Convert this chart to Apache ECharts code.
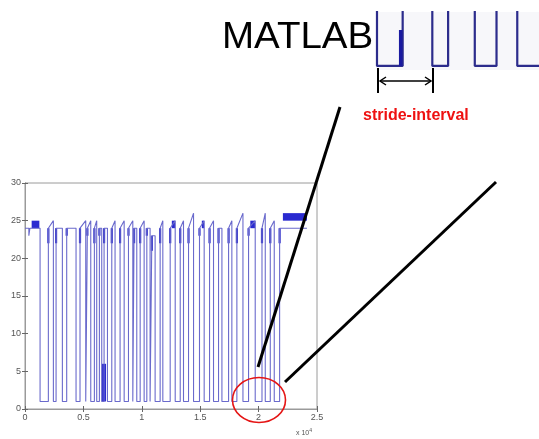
<!DOCTYPE html>
<html><head><meta charset="utf-8">
<script src="https://cdn.jsdelivr.net/npm/echarts/dist/echarts.min.js"></script>
<style>html,body{margin:0;padding:0;background:#fff}#c{width:539px;height:439px}</style>
</head><body><div id="c"></div>
<script>
// ---- data (sample index on x, value on y) ----
const xTickLabels = ['0', '0.5', '1', '1.5', '2', '2.5'];
const yTickLabels = ['0', '5', '10', '15', '20', '25', '30'];
const lowLevel = 1;
const plateau = 24;
const startTrace = [[0, 24], [330, 24], [330, 23], [420, 23], [420, 24]];
const pulseRise = [420, 2000, 2660, 3570, 4710, 5340, 5940, 6370, 6770, 7430, 8140, 8860, 9340, 9860, 10430, 10860, 11570, 12430, 13290, 14000, 14940, 15800, 16570, 17430, 18140, 19140, 20290, 21000, 21800];
const pulseFall = [1290, 2430, 3200, 4370, 5200, 5630, 6140, 6570, 7060, 7710, 8490, 9230, 9570, 10200, 10710, 11140, 11800, 12860, 13570, 14430, 15340, 16140, 16860, 17710, 18660, 19710, 20570, 21340, 24140];
const pulsePeak = [24, 25, 24, 24, 25, 25, 25, 24, 24, 25, 25, 25, 24, 25, 24, 23, 25, 25, 25, 26, 25, 25, 24, 25, 26, 25, 26, 25, 24];
// level where dense marks begin on each rising edge
const riseMarkFrom = [24, 22, 22, 23, 22, 23, 22, 23, 22, 22, 22, 23, 22, 22, 23, 21, 22, 22, 22, 22, 23, 22, 22, 22, 22, 23, 22, 22, 22];
// dense (blob) regions: [xStart, xEnd, yLow, yHigh]
const blobX0 = [570, 12570, 15140, 19290, 22080, 6570];
const blobX1 = [1230, 12860, 15340, 19710, 24140, 6940];
const blobY0 = [24, 24, 24, 24, 25, 1];
const blobY1 = [25, 25, 25, 25, 26, 6];
// zoomed inset: low intervals (inset sample units)
const insetLowStart = [1, 57, 100, 143];
const insetLowEnd = [27, 73, 122, 175];
const insetLow = 0.7, insetHigh = 20;

// ---- build series ----
const mainPts = startTrace.slice();
for (let i = 0; i < pulseRise.length; i++) {
  const r = pulseRise[i], f = pulseFall[i], p = pulsePeak[i];
  if (i > 0) { mainPts.push([r, lowLevel]); mainPts.push([r, Math.min(p, plateau)]); }
  mainPts.push([f, p]);
  if (i < pulseRise.length - 1) mainPts.push([f, lowLevel]);
}
const blobs = blobX0.map((x, i) => [x, blobX1[i], blobY0[i], blobY1[i]]);
const riseMarks = pulseRise.slice(1).map((r, k) => [r, riseMarkFrom[k + 1], Math.min(pulsePeak[k + 1], plateau)]);
const insetPts = [];
insetLowStart.forEach((a, i) => {
  const b = insetLowEnd[i];
  insetPts.push([a, insetHigh], [a, insetLow], [b, insetLow], [b, insetHigh]);
});

const chart = echarts.init(document.getElementById('c'), null, {renderer: 'canvas'});
const axisGray = '#9a9a9a';
const FF = 'Liberation Sans, Arial, sans-serif';
const labelStyle = {color: '#555', fontSize: 9, fontFamily: FF};
chart.setOption({
  animation: false,
  backgroundColor: '#fff',
  grid: [
    {left: 25, top: 183, width: 292, height: 226, show: true, borderColor: axisGray, borderWidth: 1, backgroundColor: '#fff'},
    {left: 376, top: 12, width: 165, height: 58, show: true, borderWidth: 0, backgroundColor: '#f7f7fa'}
  ],
  xAxis: [
    {gridIndex: 0, type: 'value', min: 0, max: 25000, interval: 5000, position: 'bottom',
     axisLine: {show: true, lineStyle: {color: axisGray}}, splitLine: {show: false},
     axisTick: {show: true, inside: true, length: 3, lineStyle: {color: '#666'}},
     axisLabel: Object.assign({margin: 4, formatter: (v) => xTickLabels[Math.round(v / 5000)]}, labelStyle)},
    {gridIndex: 0, type: 'value', min: 0, max: 25000, interval: 5000, position: 'top',
     axisLine: {show: true, lineStyle: {color: axisGray}}, splitLine: {show: false},
     axisTick: {show: true, inside: true, length: 3, lineStyle: {color: '#666'}}, axisLabel: {show: false}},
    {gridIndex: 1, type: 'value', min: 0, max: 165, show: false}
  ],
  yAxis: [
    {gridIndex: 0, type: 'value', min: 0, max: 30, interval: 5, position: 'left',
     axisLine: {show: true, lineStyle: {color: axisGray}}, splitLine: {show: false},
     axisTick: {show: true, inside: true, length: 3, lineStyle: {color: '#666'}},
     axisLabel: Object.assign({margin: 4, formatter: (v) => yTickLabels[Math.round(v / 5)]}, labelStyle)},
    {gridIndex: 0, type: 'value', min: 0, max: 30, interval: 5, position: 'right',
     axisLine: {show: true, lineStyle: {color: axisGray}}, splitLine: {show: false},
     axisTick: {show: true, inside: true, length: 3, lineStyle: {color: '#666'}}, axisLabel: {show: false}},
    {gridIndex: 1, type: 'value', min: 0, max: 10, show: false}
  ],
  series: [
    {type: 'line', xAxisIndex: 0, yAxisIndex: 0, data: mainPts, symbol: 'none', clip: true,
     lineStyle: {color: '#6a6acc', width: 1.1}},
    {type: 'custom', xAxisIndex: 0, yAxisIndex: 0, data: blobs,
     renderItem: function (params, api) {
       const p0 = api.coord([api.value(0), api.value(3)]);
       const p1 = api.coord([api.value(1), api.value(2)]);
       return {type: 'rect', shape: {x: p0[0], y: p0[1], width: Math.max(1, p1[0] - p0[0]), height: Math.max(1, p1[1] - p0[1])},
               style: {fill: '#2a2ad0'}};
     }},
    {type: 'custom', xAxisIndex: 0, yAxisIndex: 0, data: riseMarks,
     renderItem: function (params, api) {
       const a = api.coord([api.value(0), api.value(1)]);
       const b = api.coord([api.value(0), api.value(2)]);
       return {type: 'line', shape: {x1: a[0], y1: a[1], x2: b[0], y2: b[1]}, style: {stroke: '#3030cc', lineWidth: 2.2}};
     }},
    {type: 'line', xAxisIndex: 2, yAxisIndex: 2, data: insetPts, symbol: 'none', clip: true,
     lineStyle: {color: '#2c2c8c', width: 2.2}},
    {type: 'line', xAxisIndex: 2, yAxisIndex: 2, data: [[25, insetLow], [25, 6.9]], symbol: 'none', clip: true,
     lineStyle: {color: '#1a1aa0', width: 3.5}}
  ],
  graphic: [
    {type: 'text', x: 222, y: 20, scaleX: 1.07, style: {text: 'MATLAB', fontSize: 36, fontFamily: FF, fill: '#000'}},
    // stride-interval bracket arrow
    {type: 'line', shape: {x1: 378, y1: 68, x2: 378, y2: 93}, style: {stroke: '#000', lineWidth: 2}},
    {type: 'line', shape: {x1: 433, y1: 68, x2: 433, y2: 93}, style: {stroke: '#000', lineWidth: 2}},
    {type: 'line', shape: {x1: 380, y1: 81, x2: 431, y2: 81}, style: {stroke: '#000', lineWidth: 1.5}},
    {type: 'polyline', shape: {points: [[386, 77], [380, 81], [386, 85]]}, style: {stroke: '#000', lineWidth: 1.5, fill: null}},
    {type: 'polyline', shape: {points: [[425, 77], [431, 81], [425, 85]]}, style: {stroke: '#000', lineWidth: 1.5, fill: null}},
    {type: 'text', left: 363, top: 108, style: {text: 'stride-interval', fontSize: 16, fontWeight: 'bold', fontFamily: FF, fill: '#ee1111'}},
    // pointer lines
    {type: 'line', shape: {x1: 340, y1: 107, x2: 258, y2: 367}, style: {stroke: '#000', lineWidth: 3}, z: 100},
    {type: 'line', shape: {x1: 496, y1: 182, x2: 285, y2: 382}, style: {stroke: '#000', lineWidth: 3}, z: 100},
    {type: 'ellipse', shape: {cx: 259, cy: 400, rx: 26.5, ry: 22.5}, style: {stroke: '#e51515', lineWidth: 1.6, fill: null}, z: 100},
    {type: 'text', left: 296, top: 428, style: {text: '{a|x 10}{b|4}', rich: {a: {fontSize: 7, fill: '#555', fontFamily: FF}, b: {fontSize: 5, fill: '#555', verticalAlign: 'top', padding: [0, 0, 6, 0]}}}}
  ]
});
</script></body></html>
